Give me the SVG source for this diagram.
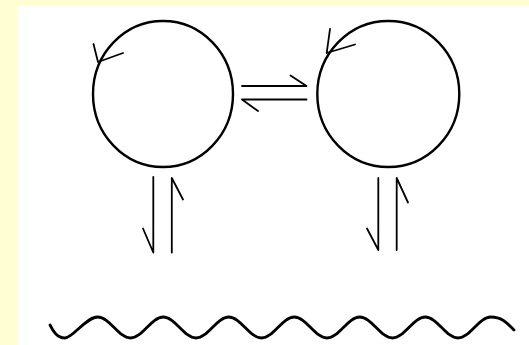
<svg xmlns="http://www.w3.org/2000/svg" width="529" height="345" viewBox="0 0 529 345">
<style>
.ln{fill:none;stroke:#000;stroke-width:1.8;stroke-linecap:round;stroke-linejoin:round}
.ring{fill:#fff;stroke:#000;stroke-width:2.4}
.wave{fill:none;stroke:#000;stroke-width:2.8;stroke-linecap:round;stroke-linejoin:round}
</style>
<rect x="0" y="0" width="529" height="345" fill="#ffffd2"/>
<rect x="17" y="6" width="512" height="339" fill="#fff"/>
<g id="node-left">
<ellipse class="ring" cx="163" cy="94" rx="70" ry="73"/>
<path class="ln" d="M93.5,44 L98,62 L123,53" stroke-width="2.4"/>
</g>
<g id="node-right">
<ellipse class="ring" cx="388.3" cy="94" rx="71" ry="73"/>
<path class="ln" d="M330,29 L326.7,53 L355,44.5" stroke-width="2.4"/>
</g>
<g id="connectors">
<path class="ln" d="M242,86 H306.5 L290.5,75.5"/>
<path class="ln" d="M306.5,99.5 H242 L258,111"/>
<path class="ln" d="M153.3,177 V252.5 L143,228.5"/>
<path class="ln" d="M171.8,252.5 V178 L183,199.5" stroke-width="2.6"/>
<path class="ln" d="M378.3,178 V250 L367,228.5"/>
<path class="ln" d="M396.7,250 V178 L408,202.5"/>
</g>
<g id="wave">
<path class="wave" d="M50,325 C53,331 57,338 65,338 S85.82,317 97.75,317 S118.57,338 130.5,338 S151.32,317 163.25,317 S184.07,338 196,338 S216.82,317 228.75,317 S249.57,338 261.5,338 S282.32,317 294.25,317 S315.07,338 327,338 S347.82,317 359.75,317 S380.57,338 392.5,338 S413.32,317 425.25,317 S446.07,338 458,338 S478.82,317 490.75,317 S508,324 514,330"/>
</g>
</svg>
